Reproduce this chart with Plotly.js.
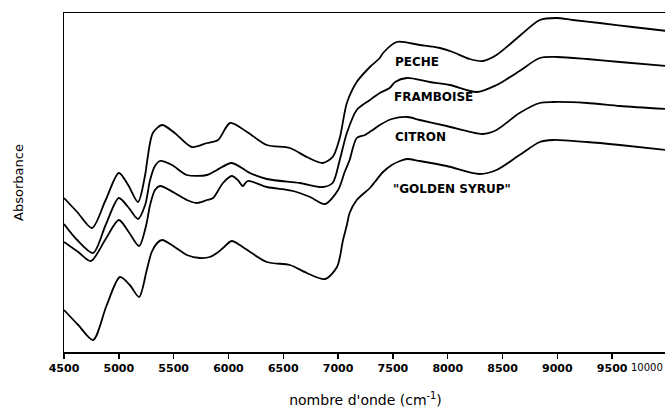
<!DOCTYPE html>
<html>
<head>
<meta charset="utf-8">
<script src="https://cdn.plot.ly/plotly-3.0.1.min.js"></script>
<style>
html, body { margin:0; padding:0; background:#fff; overflow:hidden; }
#chart { width:700px; height:408px; }
</style>
</head>
<body>
<div id="chart"></div>
<script>
// Wavenumber (cm-1) and absorbance (arbitrary units)
const pecheX = [4500,4620,4755,4880,5000,5085,5175,5240,5260,5310,5395,5510,5665,5805,5905,6015,6170,6350,6560,6715,6860,6950,7015,7080,7170,7290,7380,7410,7535,7745,7930,8045,8200,8320,8445,8655,8840,8995,9140,9385,9685,10000];
const pecheY = [1.54,1.40,1.24,1.52,1.79,1.67,1.50,1.77,1.92,2.19,2.27,2.19,2.05,2.09,2.12,2.29,2.20,2.07,2.04,1.95,1.89,1.95,2.14,2.49,2.70,2.85,2.94,2.99,3.10,3.07,3.04,3.00,2.93,2.91,2.97,3.16,3.32,3.34,3.32,3.29,3.25,3.21];

const frambX = [4500,4620,4765,4880,5000,5085,5175,5240,5285,5330,5375,5485,5620,5805,5895,6030,6195,6350,6650,6860,6950,7015,7080,7170,7290,7380,7470,7520,7625,7835,8020,8265,8445,8540,8655,8840,9000,9270,9570,10000];
const frambY = [1.28,1.12,0.99,1.27,1.54,1.45,1.33,1.47,1.72,1.86,1.91,1.87,1.77,1.77,1.82,1.89,1.79,1.73,1.69,1.65,1.69,1.92,2.19,2.42,2.52,2.59,2.64,2.70,2.74,2.70,2.67,2.60,2.67,2.73,2.81,2.94,2.95,2.93,2.90,2.86];

const citronX = [4500,4630,4745,4875,5000,5090,5185,5250,5285,5330,5375,5510,5620,5710,5805,5860,5950,6030,6085,6130,6175,6350,6590,6745,6880,7000,7060,7105,7170,7245,7315,7380,7490,7635,7745,7990,8320,8445,8655,8840,8960,9270,9570,10000];
const citronY = [1.10,1.00,0.91,1.12,1.32,1.20,1.06,1.27,1.47,1.62,1.66,1.59,1.52,1.49,1.52,1.54,1.69,1.76,1.72,1.66,1.71,1.65,1.61,1.55,1.48,1.62,1.80,1.92,2.14,2.17,2.22,2.27,2.33,2.35,2.32,2.26,2.18,2.22,2.39,2.49,2.50,2.49,2.46,2.43];

const goldenX = [4500,4630,4765,4890,5010,5100,5185,5255,5300,5350,5395,5510,5620,5740,5830,5895,5950,6030,6130,6350,6560,6715,6880,6990,7045,7080,7105,7170,7290,7335,7410,7490,7565,7630,7745,7990,8290,8445,8655,8840,8960,9270,9570,10000];
const goldenY = [0.42,0.27,0.12,0.47,0.75,0.67,0.55,0.82,1.00,1.09,1.12,1.05,0.97,0.94,0.95,0.99,1.04,1.11,1.05,0.90,0.87,0.79,0.73,0.85,1.12,1.27,1.39,1.52,1.64,1.70,1.80,1.87,1.91,1.93,1.91,1.86,1.78,1.82,1.97,2.10,2.12,2.10,2.07,2.02];

const seriesNames = ['PECHE', 'FRAMBOISE', 'CITRON', '"GOLDEN SYRUP"'];
const tickValues = [4500,5000,5500,6000,6500,7000,7500,8000,8500,9000,9500,10000];
const tickLabels = ['4500','5000','5500','6000','6500','7000','7500','8000','8500','9000','9500','10000'];

const xs = [pecheX, frambX, citronX, goldenX];
const ys = [pecheY, frambY, citronY, goldenY];

const traces = xs.map((x, i) => ({
  x: x, y: ys[i], type: 'scatter', mode: 'lines', name: seriesNames[i],
  line: { color: '#000', width: 1.8, shape: 'spline', smoothing: 0.8 },
  showlegend: false, hoverinfo: 'skip'
}));

const tickFont = { family: 'DejaVu Sans', size: 11, color: '#000', weight: 'bold' };

// label anchor points (x in cm-1, y in absorbance units)
const labelPos = [[7505, 2.90], [7495, 2.55], [7505, 2.15], [7480, 1.63]];
const annotations = seriesNames.map((t, i) => ({
  x: labelPos[i][0], y: labelPos[i][1], xref: 'x', yref: 'y',
  text: t, showarrow: false, xanchor: 'left', yanchor: 'middle',
  font: { family: 'DejaVu Sans', size: 12, color: '#000', weight: 'bold' }
}));
// last tick label, pulled inside the right edge as in the original
const lastIdx = tickLabels.length - 1;
annotations.push({
  x: tickValues[lastIdx], y: 0, xref: 'x', yref: 'paper',
  text: tickLabels[lastIdx], showarrow: false, xanchor: 'right', yanchor: 'middle',
  xshift: -2, yshift: -15,
  font: { family: 'DejaVu Sans', size: 10, color: '#000' }
});
const shownTickText = tickLabels.map((t, i) => i === lastIdx ? ' ' : t);

const layout = {
  width: 700, height: 408,
  margin: { l: 64, r: 33, t: 13, b: 56 },
  paper_bgcolor: '#fff', plot_bgcolor: '#fff',
  font: { family: 'DejaVu Sans', color: '#000' },
  xaxis: {
    range: [4500, 10000], tickvals: tickValues, ticktext: shownTickText,
    ticks: 'outside', ticklen: 5, tickwidth: 1.5, tickcolor: '#000',
    showline: true, linecolor: '#000', linewidth: 1.5, mirror: true,
    showgrid: false, zeroline: false,
    tickfont: tickFont,
    title: { text: "nombre d'onde (cm<sup>-1</sup>)", font: { family: 'DejaVu Sans', size: 14, color: '#000' }, standoff: 21 }
  },
  xaxis2: {
    overlaying: 'x', anchor: 'y', side: 'bottom', range: [4500, 10000], tickvals: tickValues,
    ticks: 'inside', ticklen: 5, tickwidth: 1.5, tickcolor: '#000',
    showticklabels: false, showline: false, showgrid: false, zeroline: false
  },
  yaxis: {
    range: [0, 3.39], showticklabels: false, ticks: '',
    showline: true, linecolor: '#000', linewidth: 1.5,
    showgrid: false, zeroline: false,
    title: { text: 'Absorbance', font: { family: 'DejaVu Sans', size: 13, color: '#000' }, standoff: 36 }
  },
  annotations: annotations
};

Plotly.newPlot('chart', traces, layout, { staticPlot: true, displayModeBar: false });
</script>
</body>
</html>
